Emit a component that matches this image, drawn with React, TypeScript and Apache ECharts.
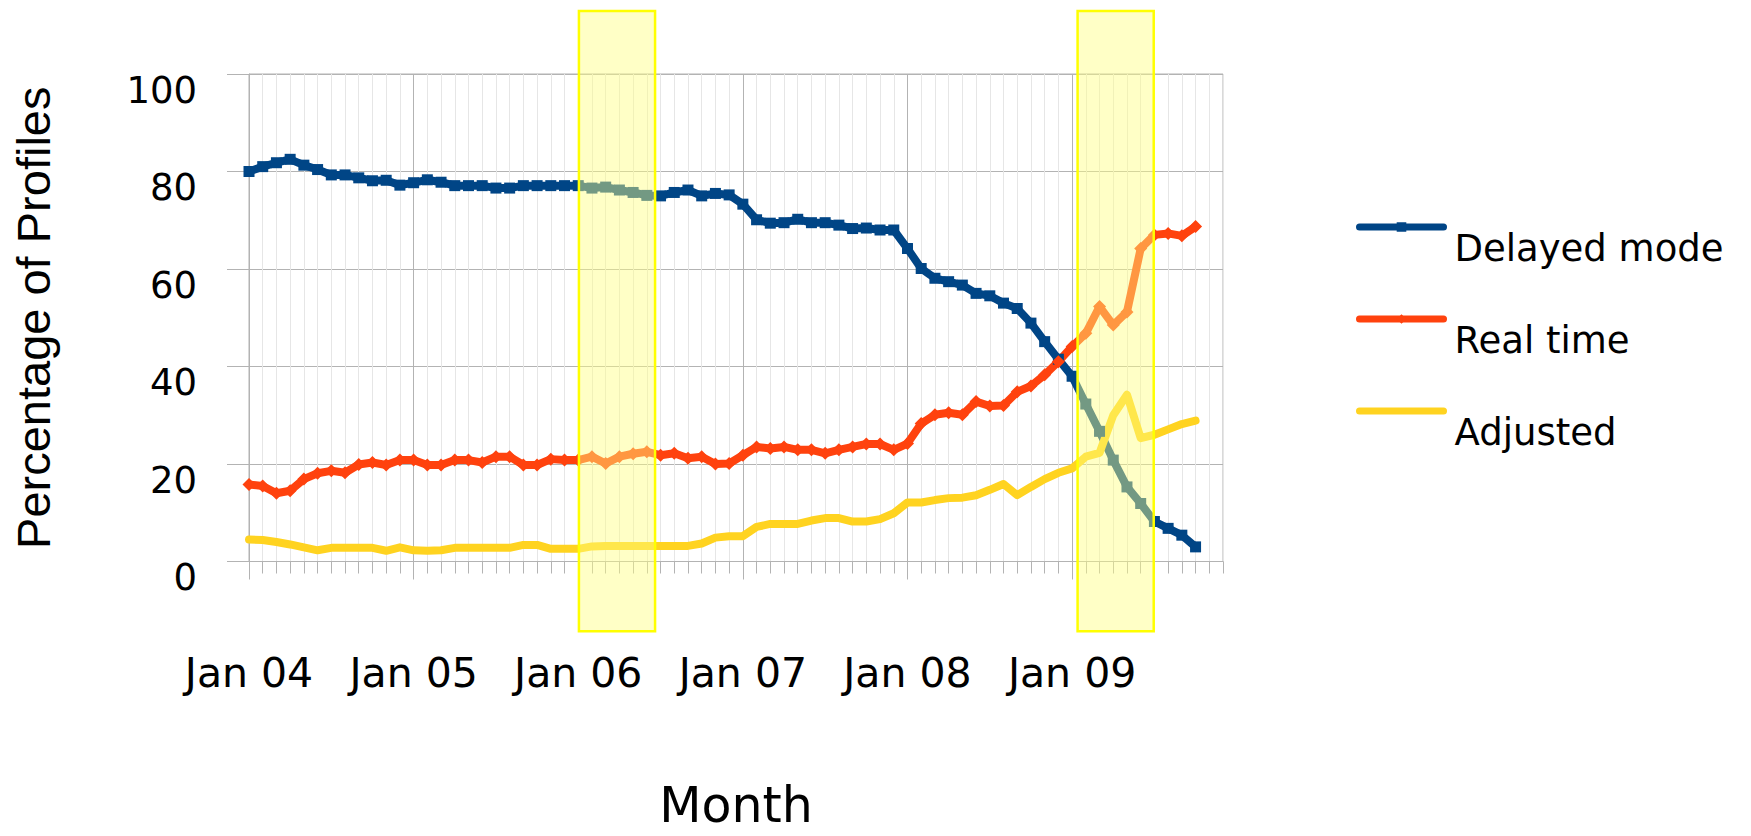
import React, { useEffect, useRef } from "react";
import * as echarts from "echarts";

// ---- categories (month ticks on the x axis) ----
const MONTHS = ["Jan", "Feb", "Mar", "Apr", "May", "Jun", "Jul", "Aug", "Sep", "Oct", "Nov", "Dec"];
const YEARS = ["04", "05", "06", "07", "08", "09"];
const categories: string[] = [];
YEARS.forEach((y) => MONTHS.forEach((m) => categories.push(`${m} ${y}`)));

// ---- series values (percentage of profiles, Jan 04 .. Oct 09) ----
const delayedMode = [
  80.0, 81.0, 81.8, 82.5, 81.3, 80.4, 79.3, 79.3, 78.7, 78.1, 78.2, 77.2,
  77.7, 78.3, 77.8, 77.1, 77.1, 77.1, 76.6, 76.6, 77.1, 77.1, 77.1, 77.1,
  77.1, 76.6, 76.8, 76.2, 75.7, 75.1, 75.0, 75.7, 76.2, 75.0, 75.5, 75.2,
  73.3, 70.1, 69.4, 69.5, 70.2, 69.5, 69.5, 69.0, 68.3, 68.4, 68.0, 68.0,
  64.2, 60.1, 58.1, 57.4, 56.7, 55.0, 54.5, 53.0, 51.9, 48.9, 45.1, 41.5,
  38.0, 32.3, 26.7, 20.8, 15.3, 11.9, 8.2, 6.8, 5.4, 3.0,
];
const realTime = [
  15.8, 15.5, 14.0, 14.5, 16.9, 18.1, 18.6, 18.2, 19.9, 20.3, 19.8, 20.8,
  20.8, 19.8, 19.8, 20.8, 20.8, 20.3, 21.5, 21.5, 19.8, 19.8, 21.0, 20.8,
  20.8, 21.5, 20.1, 21.5, 22.1, 22.5, 21.8, 22.2, 21.2, 21.5, 20.0, 20.1,
  21.8, 23.5, 23.2, 23.5, 22.9, 22.9, 22.2, 22.9, 23.5, 24.1, 24.1, 22.9,
  24.2, 28.3, 30.1, 30.5, 30.1, 32.8, 31.9, 32.0, 34.8, 36.0, 38.3, 41.0,
  44.1, 46.8, 52.3, 48.5, 51.2, 64.2, 67.0, 67.3, 66.8, 68.7,
];
const adjusted = [
  4.5, 4.4, 4.0, 3.5, 2.9, 2.3, 2.8, 2.8, 2.8, 2.8, 2.2, 2.9,
  2.3, 2.2, 2.3, 2.8, 2.8, 2.8, 2.8, 2.8, 3.4, 3.4, 2.6, 2.6,
  2.6, 3.1, 3.2, 3.2, 3.2, 3.2, 3.2, 3.2, 3.2, 3.7, 4.9, 5.2,
  5.2, 7.1, 7.7, 7.7, 7.7, 8.4, 8.9, 8.9, 8.2, 8.2, 8.7, 9.9,
  12.1, 12.1, 12.6, 13.0, 13.1, 13.6, 14.7, 15.9, 13.6, 15.3, 16.9, 18.2,
  19.1, 21.5, 22.3, 30.0, 34.2, 25.3, 26.0, 27.1, 28.2, 28.9,
];

const seriesNames = ["Delayed mode", "Real time", "Adjusted"];
const seriesColors = ["#004586", "#ff420e", "#ffd320"];

// highlighted periods, in month-index units along the category axis,
// and their vertical reach in axis-value units
const highlightPeriods = [
  { start: 24.05, end: 29.6 },
  { start: 60.4, end: 65.95 },
];
const highlightValueRange = { low: -14.3, high: 112.9 };

export default function App() {
  const ref = useRef<HTMLDivElement>(null);

  useEffect(() => {
    if (!ref.current) return;
    const chart = echarts.init(ref.current, undefined, { renderer: "svg" });

    const gridLine = "#b3b3b3";
    const minorLine = "#e6e6e6";

    chart.setOption({
      animation: false,
      backgroundColor: "#ffffff",
      textStyle: { fontFamily: "DejaVu Sans", color: "#000" },
      grid: {
        left: 249,
        top: 74,
        width: 974,
        height: 487.5,
        outerBoundsMode: "none",
        containLabel: false,
        show: true,
        borderColor: gridLine,
        borderWidth: 1,
        backgroundColor: "transparent",
      },
      legend: {
        orient: "vertical",
        left: 1351,
        top: 180,
        itemWidth: 84,
        itemHeight: 12,
        itemGap: 8,
        data: [
          { name: seriesNames[0] },
          { name: seriesNames[1] },
          { name: seriesNames[2], itemStyle: { opacity: 0 } },
        ],
        formatter: (name: string) => "\n" + name,
        lineStyle: { width: 7, cap: "round" },
        textStyle: {
          fontFamily: "DejaVu Sans",
          fontSize: 37,
          lineHeight: 42,
          color: "#000",
          padding: [0, 0, 0, 6],
        },
      },
      xAxis: [
        {
          type: "category",
          data: categories,
          boundaryGap: false,
          position: "bottom",
          axisLine: { show: true, lineStyle: { color: gridLine } },
          axisTick: { show: true, interval: 0, length: 12, lineStyle: { color: gridLine } },
          axisLabel: {
            interval: 11,
            margin: 91,
            fontFamily: "DejaVu Sans",
            fontSize: 41,
            color: "#000",
          },
          splitLine: { show: true, interval: 0, lineStyle: { color: minorLine } },
          name: "Month",
          nameLocation: "middle",
          nameGap: 226,
          nameTextStyle: {
            fontFamily: "DejaVu Sans",
            fontSize: 49,
            lineHeight: 36,
            color: "#000",
          },
        },
        {
          type: "category",
          data: categories,
          boundaryGap: false,
          position: "bottom",
          offset: 0,
          axisLine: { show: false },
          axisTick: { show: true, interval: 11, length: 18, lineStyle: { color: gridLine } },
          axisLabel: { show: false },
          splitLine: { show: true, interval: 11, lineStyle: { color: gridLine } },
        },
      ],
      yAxis: {
        type: "value",
        min: 0,
        max: 100,
        interval: 20,
        axisLine: { show: true, lineStyle: { color: gridLine } },
        axisTick: { show: true, length: 22, lineStyle: { color: gridLine } },
        splitLine: { show: true, lineStyle: { color: gridLine } },
        axisLabel: {
          margin: 52,
          fontFamily: "DejaVu Sans",
          fontSize: 37,
          lineHeight: 32,
          color: "#000",
          verticalAlign: "top",
        },
        name: "Percentage of Profiles",
        nameLocation: "middle",
        nameGap: 192,
        nameTextStyle: { fontFamily: "Liberation Sans", fontSize: 47, color: "#000" },
      },
      series: [
        {
          name: seriesNames[0],
          type: "line",
          data: delayedMode,
          symbol: "rect",
          symbolSize: 11,
          showAllSymbol: true,
          lineStyle: { width: 8, color: seriesColors[0], cap: "round", join: "round" },
          itemStyle: { color: seriesColors[0] },
        },
        {
          name: seriesNames[1],
          type: "line",
          data: realTime,
          symbol: "diamond",
          symbolSize: 13,
          showAllSymbol: true,
          lineStyle: { width: 8, color: seriesColors[1], cap: "round", join: "round" },
          itemStyle: { color: seriesColors[1] },
        },
        {
          name: seriesNames[2],
          type: "line",
          data: adjusted,
          symbol: "none",
          lineStyle: { width: 8, color: seriesColors[2], cap: "round", join: "round" },
          itemStyle: { color: seriesColors[2] },
        },
      ],
    });

    const xPx = (v: number) => {
      const i0 = Math.floor(v);
      const f = v - i0;
      const a = chart.convertToPixel({ xAxisIndex: 0 }, i0) as number;
      const b = chart.convertToPixel({ xAxisIndex: 0 }, i0 + 1) as number;
      return a + (b - a) * f;
    };
    const yPx = (v: number) => {
      const y0 = chart.convertToPixel({ yAxisIndex: 0 }, 0) as number;
      const y100 = chart.convertToPixel({ yAxisIndex: 0 }, 100) as number;
      return y0 + ((y100 - y0) * v) / 100;
    };

    const yTop = yPx(highlightValueRange.high);
    const yBottom = yPx(highlightValueRange.low);
    chart.setOption({
      graphic: highlightPeriods.map((p) => {
        const x1 = xPx(p.start);
        const x2 = xPx(p.end);
        return {
          type: "rect",
          z: 100,
          shape: { x: x1, y: yTop, width: x2 - x1, height: yBottom - yTop },
          style: { fill: "rgba(255,255,128,0.45)", stroke: "#ffff00", lineWidth: 2.5 },
        };
      }),
    });

    return () => chart.dispose();
  }, []);

  return (
    <div
      ref={ref}
      style={{ position: "absolute", left: 0, top: 0, width: 1751, height: 836 }}
    />
  );
}
